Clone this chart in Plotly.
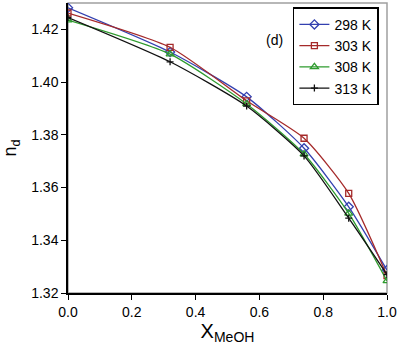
import plotly.graph_objects as go

x_meoh = [0.0, 0.32, 0.56, 0.74, 0.88, 1.0]
n_298 = [1.4282, 1.4114, 1.3944, 1.3749, 1.3527, 1.3287]
n_303 = [1.4262, 1.4132, 1.3929, 1.3787, 1.3578, 1.3266]
n_308 = [1.4235, 1.4106, 1.3917, 1.3727, 1.3502, 1.3246]
n_313 = [1.4245, 1.4077, 1.3909, 1.3720, 1.3484, 1.3270]

series = [
    ("298 K", n_298, "#3340B0", "diamond-open", 7),
    ("303 K", n_303, "#A52A2A", "square-open", 6),
    ("308 K", n_308, "#2E9B2E", "triangle-up-open", 7),
    ("313 K", n_313, "#111111", "cross-thin-open", 5),
]

fig = go.Figure()
for name, ys, color, sym, size in series:
    fig.add_trace(go.Scatter(
        x=x_meoh, y=ys, name=name, mode="lines+markers",
        line=dict(color=color, width=1.3, shape="spline", smoothing=0.6),
        marker=dict(symbol=sym, size=size, color=color, line=dict(color=color, width=1.3)),
    ))

fig.add_shape(type="rect", xref="paper", yref="paper", x0=0, y0=0, x1=1, y1=1,
              line=dict(color="#A0A0A0", width=1.5), layer="below")

fig.add_annotation(text="(d)", xref="paper", yref="paper", x=0.68, y=0.907,
                   showarrow=False, font=dict(size=14, color="black"))

fig.update_layout(
    width=399, height=346,
    margin=dict(l=68, r=12, t=3, b=53),
    plot_bgcolor="white", paper_bgcolor="white",
    font=dict(family="Liberation Sans, Arial", size=13, color="black"),
    showlegend=True,
    legend=dict(x=0.705, y=0.985, xanchor="left", yanchor="top",
                bordercolor="black", borderwidth=1.5, bgcolor="white",
                font=dict(size=14), itemwidth=30, tracegroupgap=0),
    xaxis=dict(range=[0, 1.0], tickvals=[0, 0.2, 0.4, 0.6, 0.8, 1.0], tickformat=".1f",
               showgrid=False, zeroline=False, showline=True, linecolor="black", linewidth=1.5,
               ticks="outside", ticklen=5, tickcolor="black", tickfont=dict(size=14),
               title=dict(text="X<sub>MeOH</sub>", font=dict(size=20), standoff=2)),
    yaxis=dict(range=[1.32, 1.43], tickvals=[1.32, 1.34, 1.36, 1.38, 1.40, 1.42], tickformat=".2f",
               showgrid=False, zeroline=False, showline=True, linecolor="black", linewidth=1.5,
               ticks="outside", ticklen=5, tickcolor="black", tickfont=dict(size=14),
               title=dict(text="n<sub>d</sub>", font=dict(size=18), standoff=10)),
)

fig.write_html("out.html", config={"displayModeBar": False},
               post_script="document.body.style.margin='0';document.body.style.overflow='hidden';")
